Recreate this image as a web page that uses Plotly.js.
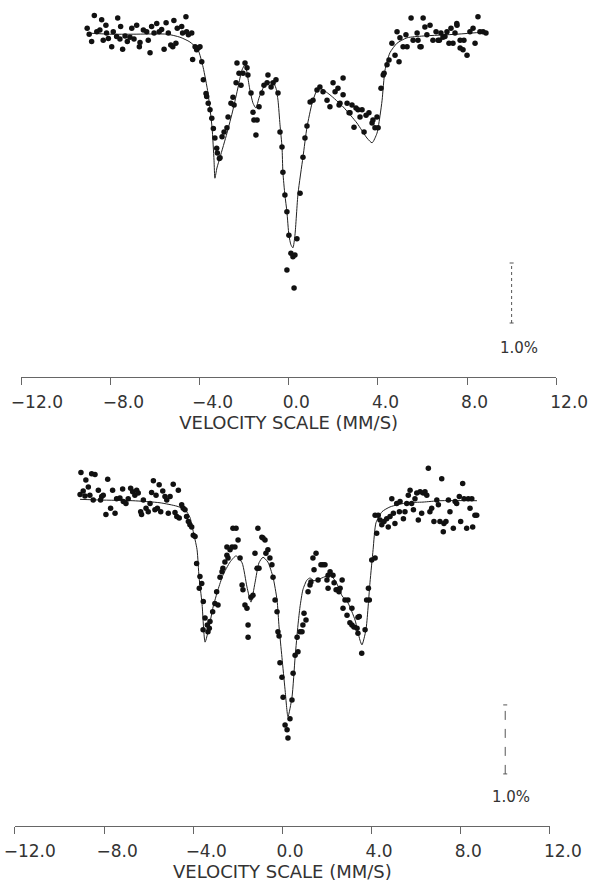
<!DOCTYPE html>
<html><head><meta charset="utf-8">
<script src="https://cdn.plot.ly/plotly-3.0.1.min.js"></script>
<style>html,body{margin:0;padding:0;background:#fff;}#chart{width:590px;height:883px;}</style>
</head><body><div id="chart"></div>
<script>
// ---------- tick labels ----------
const tickVals = [-12, -8, -4, 0, 4, 8, 12];
const NB = '\u00a0', TH = '\u2009';
// labels are left-aligned on the ticks in the reference; padding spaces emulate that
const topTickText = [NB + '\u221212.0', '\u22128.0', '\u22124.0', '0.0' + NB + NB, '4.0' + NB + NB, '8.0' + NB + NB, '12.0'];
const botTickText = [TH + '\u221212.0', '\u22128.0', '\u22124.0', '0.0' + NB + NB, '4.0' + NB + NB, '8.0' + NB + NB, '12.0'];
const axisTitle = 'VELOCITY SCALE (MM/S)';
const scaleLabel = '1.0%';

// ---------- top spectrum: measured points (velocity mm/s, relative transmission %) ----------
const topVel = [-8.72,-9.04,-8.95,-8.84,-8.61,-8.47,-8.39,-8.20,-8.17,-8.32,-8.09,-7.94,-7.87,-7.72,-7.67,-7.54,-7.57,-7.45,-7.34,-7.24,
-7.12,-7.04,-6.94,-6.82,-6.70,-6.67,-6.52,-6.37,-6.30,-6.22,-6.15,-6.04,-5.92,-5.81,-5.70,-5.59,-5.50,-5.40,-5.29,-5.20,
-5.15,-5.06,-5.00,-4.80,-4.76,-4.61,-4.58,-4.50,-4.35,-4.31,-4.20,-4.13,-4.06,-3.98,-3.90,-3.83,-3.71,-3.68,-3.61,-3.53,
-3.45,-3.38,-3.31,-3.23,-3.20,-3.11,-3.08,-2.99,-2.90,-2.77,-2.72,-2.59,-2.50,-2.45,-2.36,-2.32,-2.23,-2.14,-2.05,-1.96,
-1.87,-1.83,-1.69,-1.60,-1.56,-1.47,-1.42,-1.33,-1.20,-1.11,-0.97,-0.93,-0.79,-0.70,-0.57,-0.48,-0.39,-0.30,-0.26,-0.17,
-0.08,0.01,-0.08,0.10,0.19,0.28,0.24,0.37,0.51,0.64,0.73,0.82,0.96,1.09,1.27,1.40,1.54,1.72,1.85,1.99,
2.08,2.21,2.26,2.44,2.62,2.75,2.84,2.93,2.30,2.44,2.71,3.02,3.11,3.20,3.29,3.38,3.47,3.60,3.74,3.78,
3.87,3.96,4.01,4.14,4.28,4.41,4.50,4.63,4.77,4.86,4.95,4.99,5.13,5.26,5.31,5.49,5.58,5.76,5.80,5.94,
6.03,6.11,6.20,6.34,6.47,6.61,6.70,6.83,6.92,7.10,7.19,7.28,7.37,7.46,7.55,7.69,7.82,7.86,8.00,8.13,
8.27,8.36,8.49,8.58,8.72,8.85,5.89,6.76,7.01,7.69,7.54,4.24];
const topTrans = [100.29,100.08,99.98,99.86,100.02,100.05,100.22,100.13,100.00,99.88,99.91,99.77,100.02,99.94,100.25,100.11,99.90,99.73,99.95,99.86,
99.93,100.08,99.90,100.13,99.77,99.84,100.05,100.02,99.88,99.67,100.11,100.00,100.16,100.02,100.06,99.73,100.17,100.00,99.80,99.77,
100.21,99.83,100.08,100.11,100.00,100.27,100.02,99.97,100.00,99.56,99.77,99.72,99.75,99.77,99.52,99.22,98.99,98.94,98.83,98.72,
98.58,98.41,98.25,98.08,98.00,97.91,97.92,98.27,98.35,98.42,98.60,98.83,98.93,98.80,99.17,99.50,99.33,99.13,99.33,99.50,
99.42,99.30,99.00,98.68,98.55,98.30,98.55,98.77,99.00,99.13,99.17,99.30,99.10,99.17,99.22,99.00,98.35,98.10,97.68,97.30,
97.02,96.63,96.05,96.33,96.27,96.30,95.75,96.57,97.33,97.93,98.25,98.45,98.85,98.88,99.05,99.10,99.02,98.88,98.77,99.17,
99.02,99.08,98.80,99.25,98.83,98.67,98.80,98.43,98.83,98.97,98.67,98.75,98.72,98.60,98.72,98.35,98.63,98.67,98.50,98.55,
98.42,98.60,98.42,99.08,99.33,99.47,99.55,99.83,99.63,100.02,99.52,99.92,99.77,99.97,99.77,100.25,99.88,100.00,99.88,99.77,
100.25,100.10,99.97,100.13,99.88,100.02,99.88,100.00,99.93,100.02,99.83,100.08,99.83,100.00,100.13,99.75,99.72,99.88,99.63,100.02,
100.08,99.83,100.27,100.02,100.02,100.00,99.77,99.88,99.94,99.88,100.16,99.30];

// ---------- top spectrum: fitted curve ----------
const topFitVel = [-9.05,-8.02,-6.98,-5.46,-4.88,-4.43,-4.07,-3.84,-3.62,-3.44,-3.35,-3.31,-3.22,-3.08,-2.77,-2.50,-2.27,-2.10,-1.96,-1.74,
-1.60,-1.47,-1.33,-1.15,-0.93,-0.70,-0.57,-0.48,-0.39,-0.30,-0.26,-0.17,-0.08,0.01,0.10,0.19,0.28,0.42,0.64,0.82,
1.05,1.27,1.40,1.85,2.44,3.06,3.51,3.74,3.96,4.10,4.19,4.32,4.54,4.86,5.31,6.03,7.55,8.90];
const topFitTrans = [100.00,99.98,99.98,99.98,99.93,99.85,99.72,99.43,99.00,98.43,97.88,97.58,97.75,97.93,98.33,98.72,99.10,99.38,99.47,99.05,
98.83,98.75,98.92,99.08,99.17,99.18,99.08,98.88,98.47,98.10,97.68,97.30,97.02,96.63,96.47,96.42,96.63,97.33,97.93,98.43,
98.83,99.05,99.08,98.97,98.77,98.50,98.25,98.17,98.33,98.63,98.88,99.38,99.67,99.83,99.92,99.95,99.98,100.02];

// ---------- bottom spectrum: measured points ----------
const botVel = [-9.04,-8.82,-8.56,-8.41,-8.71,-8.94,-9.08,-8.86,-8.64,-8.49,-8.26,-8.11,-8.16,-8.04,-7.92,-7.84,-7.71,-7.62,-7.51,-7.44,
-7.29,-7.17,-7.14,-7.02,-6.92,-6.81,-6.72,-6.62,-6.54,-6.47,-6.36,-6.32,-6.24,-6.12,-6.02,-5.94,-5.87,-5.79,-5.72,-5.61,
-5.67,-5.53,-5.46,-5.37,-5.27,-5.19,-5.12,-5.04,-4.90,-4.82,-4.74,-4.67,-4.63,-4.52,-4.45,-4.37,-4.30,-4.22,-4.15,-4.07,
-4.00,-3.92,-3.85,-3.70,-3.62,-3.73,-3.55,-3.47,-3.37,-3.28,-3.25,-3.13,-3.03,-2.95,-3.56,-3.34,-2.89,-2.80,-2.71,-2.67,
-2.58,-2.49,-2.44,-2.35,-2.49,-2.26,-2.22,-2.08,-2.13,-1.99,-1.90,-1.81,-1.77,-1.68,-1.59,-1.54,-1.54,-1.41,-1.32,-1.23,
-1.14,-1.10,-1.05,-0.92,-0.87,-0.78,-0.74,-0.65,-0.56,-0.47,-0.42,-0.33,-0.24,-0.20,-0.15,-0.11,-0.02,0.03,0.12,0.21,
0.25,0.34,0.43,0.48,0.57,0.70,0.66,0.79,0.88,0.97,1.06,0.92,1.15,1.24,1.28,1.37,1.42,1.51,1.60,1.73,
1.82,1.91,2.00,2.05,2.14,2.05,2.27,2.32,2.41,2.50,2.54,2.59,2.68,2.72,2.81,2.90,2.94,3.03,3.12,3.12,
3.21,3.35,3.39,3.39,3.45,3.56,3.71,3.78,3.90,3.86,4.01,4.16,4.23,4.16,4.30,4.38,4.46,4.56,4.68,4.75,
4.83,4.91,4.98,5.05,5.13,5.25,5.28,5.43,5.50,5.58,5.65,5.73,5.80,5.88,5.95,6.03,6.10,6.18,6.25,6.32,
6.40,6.48,6.55,6.62,6.70,6.80,6.93,7.00,7.07,7.15,7.22,7.25,7.34,7.45,7.52,7.67,7.75,7.82,7.94,8.00,
8.09,8.15,8.27,8.34,8.42,8.50,8.54,8.64,8.72];
const botTrans = [100.40,100.29,100.38,100.37,100.19,100.13,100.08,100.06,100.07,100.00,100.14,100.05,100.00,100.07,99.79,100.30,99.88,100.14,99.81,100.02,
100.03,100.16,99.98,99.95,100.02,100.17,100.12,100.07,100.14,100.10,99.83,99.79,100.00,99.88,99.83,99.95,100.11,100.28,99.86,99.88,
100.07,100.22,99.83,100.13,100.05,100.00,99.81,100.05,100.23,99.82,99.76,100.14,99.74,99.93,99.88,99.86,99.76,99.69,99.64,99.61,
99.49,99.47,99.08,98.89,98.79,98.72,98.53,98.29,98.19,98.14,98.24,98.38,98.50,98.67,98.12,98.09,98.48,98.88,98.96,99.01,
99.10,99.20,99.16,99.28,99.32,99.32,99.59,99.59,99.32,99.42,99.16,98.77,98.70,98.48,98.43,98.19,98.01,98.59,98.62,99.23,
99.01,99.59,99.01,99.46,99.45,99.42,99.23,99.28,99.16,99.06,98.88,98.55,98.38,98.09,98.03,97.64,97.43,97.14,96.74,96.67,
96.55,96.83,97.10,97.49,97.75,97.80,98.01,98.09,98.09,98.36,98.26,98.19,98.67,98.77,98.81,99.16,98.99,99.23,98.84,99.06,
99.06,99.06,98.84,98.91,98.96,98.72,98.91,98.80,98.70,98.70,98.67,98.72,98.84,98.43,98.55,98.33,98.55,98.22,98.43,98.19,
98.16,98.14,98.30,98.07,98.31,97.78,98.12,98.55,98.55,98.72,99.13,99.16,99.52,99.78,99.78,99.71,99.64,99.69,99.73,99.61,
99.76,100.02,99.81,99.66,99.95,99.83,99.98,99.73,99.83,99.95,100.07,100.14,99.95,99.86,100.02,100.10,99.71,100.12,99.81,100.10,
100.12,100.07,100.46,99.83,99.88,99.69,100.00,99.93,99.69,100.31,99.54,99.66,99.69,100.00,99.83,99.59,99.98,99.95,100.05,99.69,
100.24,100.02,99.59,100.02,99.88,100.02,99.61,99.78,99.78];

// ---------- bottom spectrum: fitted curve ----------
const botFitVel = [-9.08,-8.19,-6.71,-5.49,-4.73,-4.37,-4.15,-4.02,-3.83,-3.74,-3.61,-3.47,-3.29,-3.11,-2.89,-2.67,-2.35,-2.08,-1.81,-1.59,
-1.41,-1.23,-1.05,-0.87,-0.65,-0.42,-0.24,-0.15,-0.02,0.12,0.25,0.43,0.57,0.70,0.79,0.92,1.10,1.24,1.42,1.77,
2.14,2.41,2.68,2.94,3.26,3.48,3.57,3.75,3.93,4.07,4.20,4.47,4.83,5.59,6.31,7.07,8.73];
const botFitTrans = [100.01,100.00,99.99,99.96,99.91,99.86,99.75,99.57,99.28,98.88,98.51,97.94,98.16,98.45,98.70,98.91,99.10,99.19,99.09,98.74,
98.52,98.80,99.09,99.17,99.10,98.88,98.55,98.16,97.72,97.25,96.86,97.14,97.72,98.19,98.45,98.70,98.84,98.87,98.83,98.87,
98.91,98.81,98.61,98.51,98.26,97.97,97.90,98.12,98.80,99.28,99.67,99.83,99.90,99.96,99.97,99.99,99.99];

// ---------- scale bars (1.0 % transmission) ----------
const scaleBarVel = 10.0;
const topScaleBar = [95.167, 96.167];
const botScaleBar = [96.03, 97.03];

const FONT = 'DejaVu Sans';
const INK = '#333';

function markerTrace(x, y, xa, ya) {
  return {x: x, y: y, xaxis: xa, yaxis: ya, type: 'scatter', mode: 'markers',
    marker: {size: 5.5, color: '#111', line: {width: 0}}, hoverinfo: 'x+y'};
}
function lineTrace(x, y, xa, ya) {
  return {x: x, y: y, xaxis: xa, yaxis: ya, type: 'scatter', mode: 'lines',
    line: {color: '#222', width: 1, shape: 'spline', smoothing: 0.6}, hoverinfo: 'skip'};
}

const data = [
  lineTrace(topFitVel, topFitTrans, 'x', 'y'),
  markerTrace(topVel, topTrans, 'x', 'y'),
  lineTrace(botFitVel, botFitTrans, 'x2', 'y2'),
  markerTrace(botVel, botTrans, 'x2', 'y2')
];

function xAxis(domain, anchor, ticktext) {
  return {domain: domain, anchor: anchor, range: [-12, 12], showgrid: false, zeroline: false,
    showline: true, linecolor: '#666', linewidth: 1, ticks: 'outside', ticklen: 7, tickwidth: 1, tickcolor: '#666',
    tickmode: 'array', tickvals: tickVals, ticktext: ticktext, ticklabelshift: 13, ticklabelstandoff: 3,
    ticklabeloverflow: 'allow',
    tickfont: {family: FONT, size: 17, color: INK}, automargin: false, fixedrange: true,
    title: {text: axisTitle, font: {family: FONT, size: 18, color: INK}, standoff: 1}};
}
function yAxis(domain, range, anchor) {
  return {domain: domain, range: range, anchor: anchor, visible: false, fixedrange: true};
}

function bar(xa, ya, yr, dash) {
  const ln = {color: '#555', width: 1, dash: dash};
  const cap = {color: '#555', width: 1};
  return [
    {type: 'line', xref: xa, yref: ya, x0: scaleBarVel, x1: scaleBarVel, y0: yr[0], y1: yr[1], line: ln},
    {type: 'line', xref: xa, yref: ya, xsizemode: 'pixel', xanchor: scaleBarVel, x0: -2, x1: 2, y0: yr[0], y1: yr[0], line: cap},
    {type: 'line', xref: xa, yref: ya, xsizemode: 'pixel', xanchor: scaleBarVel, x0: -2, x1: 2, y0: yr[1], y1: yr[1], line: cap}
  ];
}

const layout = {
  width: 590, height: 883, margin: {l: 0, r: 0, t: 0, b: 0},
  paper_bgcolor: '#fff', plot_bgcolor: '#fff', showlegend: false,
  font: {family: FONT, color: INK},
  xaxis: xAxis([0.03593, 0.94271], 'y', topTickText),
  yaxis: yAxis([0.57304, 1], [94.267, 100.55], 'x'),
  xaxis2: xAxis([0.02542, 0.93186], 'y2', botTickText),
  yaxis2: yAxis([0.064553, 0.490374], [95.275, 100.725], 'x2'),
  shapes: bar('x', 'y', topScaleBar, 'dot').concat(bar('x2', 'y2', botScaleBar, 'dash')),
  annotations: [
    {xref: 'x', yref: 'y', x: 10.35, y: 94.75, text: scaleLabel, showarrow: false,
      font: {family: FONT, size: 15, color: INK}},
    {xref: 'x2', yref: 'y2', x: 10.25, y: 95.70, text: scaleLabel, showarrow: false,
      font: {family: FONT, size: 15, color: INK}}
  ]
};

Plotly.newPlot('chart', data, layout, {staticPlot: true, displayModeBar: false});
</script></body></html>
